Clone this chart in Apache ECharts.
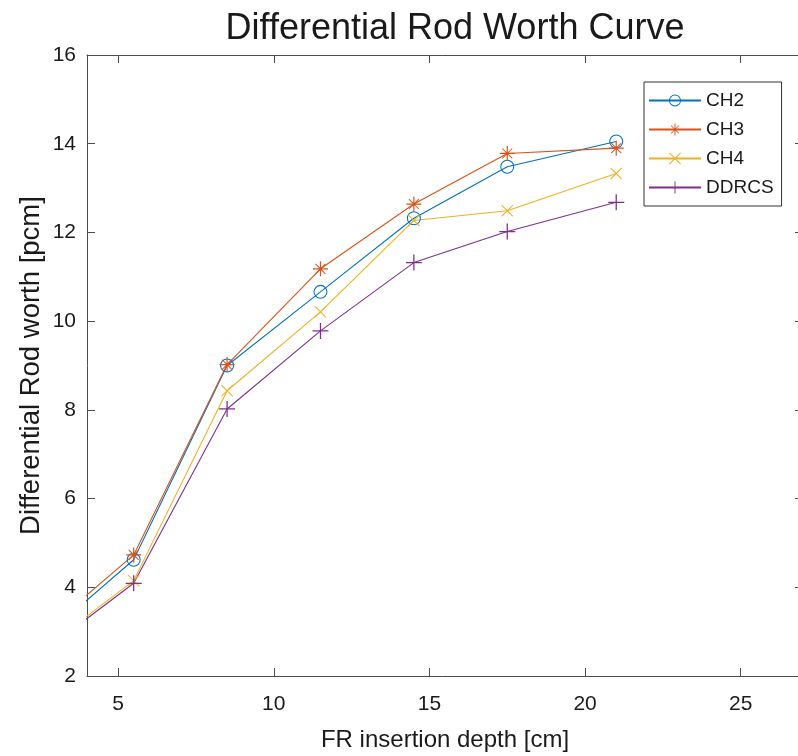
<!DOCTYPE html>
<html>
<head>
<meta charset="utf-8">
<script src="https://cdn.jsdelivr.net/npm/echarts@6/dist/echarts.min.js"></script>
<style>
    html, body { margin: 0; padding: 0; background: #fff; }
    #main { width: 798px; height: 756px; }
</style>
</head>
<body>
<div id="main"></div>
<script>
// insertion depth [cm] (first point sits left of the visible range)
var depths = [2.5, 5.5, 8.5, 11.5, 14.5, 17.5, 21];
var ch2 = [2.8, 4.62, 9.0, 10.66, 12.32, 13.48, 14.05];
var ch3 = [2.93, 4.73, 9.02, 11.18, 12.64, 13.78, 13.9];
var ch4 = [2.55, 4.15, 8.43, 10.21, 12.27, 12.49, 13.33];
var ddrcs = [2.5, 4.09, 8.02, 9.78, 11.32, 12.02, 12.68];
var xTicks = [5, 10, 15, 20, 25];

var font = '"Liberation Sans", Arial, sans-serif';
var axisColor = '#4d4d4d';

// matlab-like marker shapes (hollow, so the line shows through)
var ringPath = 'path://M10,0A10,10 0 1,1 10,20A10,10 0 1,1 10,0Z M10,1.5A8.5,8.5 0 1,0 10,18.5A8.5,8.5 0 1,0 10,1.5Z';
var plusPath = 'path://M9.2,0H10.8V20H9.2Z M0,9.2H20V10.8H0Z';
var crossPath = 'path://M1.2,0L20,18.8L18.8,20L0,1.2Z M18.8,0L20,1.2L1.2,20L0,18.8Z';
var starPath = 'path://M9.2,0H10.8V20H9.2Z M0,9.2H20V10.8H0Z M3.8,2.9L17.1,16.2L16.2,17.1L2.9,3.8Z M16.2,2.9L17.1,3.8L3.8,17.1L2.9,16.2Z';

function pairs(ys) {
    return depths.map(function (x, i) { return [x, ys[i]]; });
}

function makeSeries(name, ys, color, symbol, size) {
    return {
        name: name,
        type: 'line',
        data: pairs(ys),
        xAxisIndex: 0,
        yAxisIndex: 0,
        clip: true,
        symbol: symbol,
        symbolSize: size,
        showAllSymbol: true,
        lineStyle: { color: color, width: 1.1 },
        itemStyle: { color: color }
    };
}

var chart = echarts.init(document.getElementById('main'));

var tickLine = { show: true, inside: true, length: 8, lineStyle: { color: axisColor, width: 1 } };

var option = {
    animation: false,
    backgroundColor: '#fff',
    textStyle: { fontFamily: font },
    title: {
        text: 'Differential Rod Worth Curve',
        left: 450,
        textAlign: 'center',
        top: 6,
        textStyle: { fontFamily: font, fontSize: 36, fontWeight: 'normal', color: '#1a1a1a' }
    },
    legend: {
        orient: 'vertical',
        left: 644,
        top: 82,
        backgroundColor: '#fff',
        borderColor: '#333',
        borderWidth: 1,
        borderRadius: 0,
        padding: [9, 8, 9, 4],
        itemGap: 10,
        itemWidth: 52,
        itemHeight: 15,
        textStyle: { fontFamily: font, fontSize: 19, color: '#1a1a1a' },
        data: ['CH2', 'CH3', 'CH4', 'DDRCS']
    },
    grid: {
        left: 87,
        top: 55,
        right: -5,
        bottom: 80,
        outerBoundsMode: 'none'
    },
    xAxis: [{
        type: 'value',
        min: 4,
        max: 27,
        name: 'FR insertion depth [cm]',
        nameLocation: 'middle',
        nameGap: 52,
        nameMoveOverlap: false,
        nameTextStyle: { fontFamily: font, fontSize: 24, color: '#1a1a1a' },
        axisLine: { show: true, onZero: false, lineStyle: { color: axisColor, width: 1 } },
        axisTick: Object.assign({ customValues: xTicks }, tickLine),
        axisLabel: { customValues: xTicks, margin: 18, fontSize: 21, color: '#1a1a1a', fontFamily: font },
        splitLine: { show: false }
    }, {
        type: 'value',
        position: 'top',
        min: 4,
        max: 27,
        axisLine: { show: true, onZero: false, lineStyle: { color: axisColor, width: 1 } },
        axisTick: Object.assign({ customValues: xTicks }, tickLine),
        axisLabel: { show: false },
        splitLine: { show: false }
    }],
    yAxis: [{
        type: 'value',
        min: 2,
        max: 16,
        interval: 2,
        name: 'Differential Rod worth [pcm]',
        nameLocation: 'middle',
        nameGap: 42,
        nameMoveOverlap: false,
        nameTextStyle: { fontFamily: font, fontSize: 27.5, color: '#1a1a1a' },
        axisLine: { show: true, onZero: false, lineStyle: { color: axisColor, width: 1 } },
        axisTick: tickLine,
        axisLabel: { margin: 11, fontSize: 21, color: '#1a1a1a', fontFamily: font },
        splitLine: { show: false }
    }, {
        type: 'value',
        position: 'right',
        min: 2,
        max: 16,
        interval: 2,
        axisLine: { show: true, onZero: false, lineStyle: { color: axisColor, width: 1 } },
        axisTick: tickLine,
        axisLabel: { show: false },
        splitLine: { show: false }
    }],
    series: [
        makeSeries('CH2', ch2, '#0072BD', ringPath, 14),
        makeSeries('CH3', ch3, '#D95319', starPath, 15),
        makeSeries('CH4', ch4, '#EDB120', crossPath, 12),
        makeSeries('DDRCS', ddrcs, '#7E2F8E', plusPath, 16)
    ]
};

chart.setOption(option);
</script>
</body>
</html>
